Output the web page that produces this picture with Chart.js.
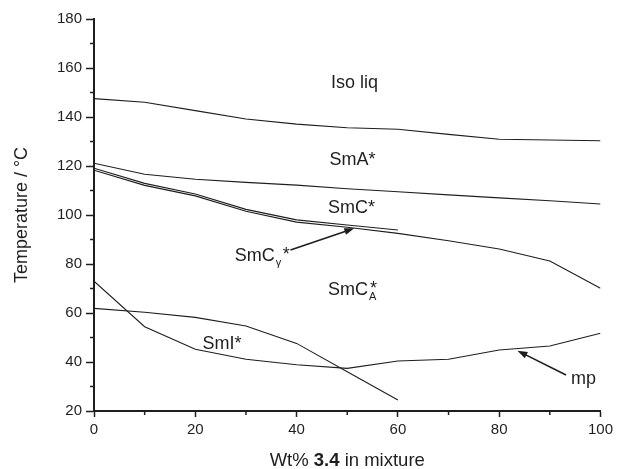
<!DOCTYPE html>
<html><head><meta charset="utf-8">
<script src="https://cdn.jsdelivr.net/npm/chart.js@4.4.0/dist/chart.umd.min.js"></script>
<style>html,body{margin:0;padding:0;background:#fff}#wrap{width:617px;height:469px;position:relative}</style>
</head><body><div id="wrap"><canvas id="c"></canvas></div>
<script>
// ---- data (wt% of 3.4 in mixture vs transition temperature / °C) ----
const wtPercent      = [0, 10, 20, 30, 40, 50, 60, 70, 80, 90, 100];
const wtPercentShort = [0, 10, 20, 30, 40, 50, 60];
const isoLiqToSmA    = [147.5, 146.0, 142.6, 139.2, 137.1, 135.6, 135.0, 132.9, 130.9, 130.6, 130.3];
const smAToSmC       = [121.1, 116.6, 114.6, 113.3, 112.2, 110.7, 109.5, 108.2, 107.0, 105.8, 104.5];
const smCToSmCgamma  = [119.1, 112.9, 108.6, 102.3, 98.0, 95.9, 93.9];
const smCgammaToSmCA = [118.3, 112.1, 107.8, 101.5, 97.1, 95.0, 92.5, 89.5, 86.1, 81.2, 70.1];
const meltingPoint   = [73.0, 54.4, 45.2, 41.1, 38.9, 37.4, 40.4, 41.1, 44.9, 46.5, 51.7];
const smIBoundary    = [61.9, 60.3, 58.2, 54.7, 47.6, 36.0, 24.5];
const xTickLabels    = [0, 20, 40, 60, 80, 100];
const yTickLabels    = [20, 40, 60, 80, 100, 120, 140, 160, 180];
const xMinorTicks    = [10, 30, 50, 70, 90];
const yMinorTicks    = [30, 50, 70, 90, 110, 130, 150, 170];

const FONT = "'Liberation Sans', Arial, Helvetica, sans-serif";
const INK = '#1e1e1e';

function pts(xs, ys) { return ys.map((y, i) => ({ x: xs[i], y })); }
function lineDs(xs, ys) {
  return { data: pts(xs, ys), borderColor: INK, borderWidth: 1.1, pointRadius: 0, tension: 0, fill: false };
}

// region labels in data coordinates (left, baseline)
const regionLabels = [
  { main: 'Iso liq', x: 46.8, y: 151.7 },
  { main: 'SmA*',    x: 46.5, y: 120.3 },
  { main: 'SmC*',    x: 46.2, y: 100.7 },
  { main: 'SmC', sub: 'γ', star: true, starDx: 8, x: 27.8, y: 81.3 },
  { main: 'SmC', sub: 'A', star: true, starDx: 2, x: 46.2, y: 67.3 },
  { main: 'SmI*',    x: 21.4, y: 45.2 },
  { main: 'mp',      x: 94.2, y: 30.9 }
];
const arrows = [
  { from: [38.8, 85.7], to: [51.4, 94.6] },
  { from: [93.2, 34.7], to: [83.6, 44.6] }
];

const decor = {
  id: 'decor',
  afterDraw(chart) {
    const ctx = chart.ctx, xs = chart.scales.x, ys = chart.scales.y;
    ctx.save();
    // minor ticks
    ctx.strokeStyle = INK; ctx.lineWidth = 1.5;
    const yb = ys.getPixelForValue(20);
    xMinorTicks.forEach(v => { const px = xs.getPixelForValue(v); ctx.beginPath(); ctx.moveTo(px, yb); ctx.lineTo(px, yb + 4); ctx.stroke(); });
    const xl = xs.getPixelForValue(0);
    yMinorTicks.forEach(v => { const py = ys.getPixelForValue(v); ctx.beginPath(); ctx.moveTo(xl, py); ctx.lineTo(xl - 4, py); ctx.stroke(); });
    // labels
    ctx.fillStyle = INK; ctx.textBaseline = 'alphabetic'; ctx.textAlign = 'left';
    regionLabels.forEach(l => {
      const px = xs.getPixelForValue(l.x), py = ys.getPixelForValue(l.y);
      ctx.font = '18px ' + FONT;
      ctx.fillText(l.main, px, py);
      const w = ctx.measureText(l.main).width;
      if (l.sub) {
        ctx.font = '11px ' + FONT;
        ctx.fillText(l.sub, px + w + 1, py + 5);
        ctx.font = '18px ' + FONT;
        ctx.fillText('*', px + w + l.starDx, py - 1);
      }
    });
    // arrows
    arrows.forEach(a => {
      const x1 = xs.getPixelForValue(a.from[0]), y1 = ys.getPixelForValue(a.from[1]);
      const x2 = xs.getPixelForValue(a.to[0]), y2 = ys.getPixelForValue(a.to[1]);
      const ang = Math.atan2(y2 - y1, x2 - x1);
      ctx.lineWidth = 1.6; ctx.strokeStyle = INK;
      ctx.beginPath(); ctx.moveTo(x1, y1); ctx.lineTo(x2 - 6 * Math.cos(ang), y2 - 6 * Math.sin(ang)); ctx.stroke();
      ctx.beginPath();
      ctx.moveTo(x2, y2);
      ctx.lineTo(x2 - 10 * Math.cos(ang) + 3.5 * Math.sin(ang), y2 - 10 * Math.sin(ang) - 3.5 * Math.cos(ang));
      ctx.lineTo(x2 - 10 * Math.cos(ang) - 3.5 * Math.sin(ang), y2 - 10 * Math.sin(ang) + 3.5 * Math.cos(ang));
      ctx.closePath(); ctx.fill();
    });
    // x axis title with bold compound number
    const parts = [['Wt% ', '18.5px '], ['3.4', 'bold 18.5px '], [' in mixture', '18.5px ']];
    let total = 0;
    parts.forEach(p => { ctx.font = p[1] + FONT; total += ctx.measureText(p[0]).width; });
    let cx = (xs.left + xs.right) / 2 - total / 2;
    const by = yb + 55;
    parts.forEach(p => { ctx.font = p[1] + FONT; ctx.fillText(p[0], cx, by); cx += ctx.measureText(p[0]).width; });
    ctx.restore();
  }
};

new Chart(document.getElementById('c'), {
  type: 'line',
  data: {
    datasets: [
      lineDs(wtPercent, isoLiqToSmA),
      lineDs(wtPercent, smAToSmC),
      lineDs(wtPercentShort, smCToSmCgamma),
      lineDs(wtPercent, smCgammaToSmCA),
      lineDs(wtPercent, meltingPoint),
      lineDs(wtPercentShort, smIBoundary)
    ]
  },
  options: {
    responsive: true, maintainAspectRatio: false, animation: false,
    layout: { padding: { top: 19, right: 4, left: 0, bottom: 0 } },
    plugins: { legend: { display: false }, tooltip: { enabled: false } },
    scales: {
      x: {
        type: 'linear', min: 0, max: 100,
        afterBuildTicks: s => { s.ticks = xTickLabels.map(v => ({ value: v })); },
        afterFit: s => { s.height = 58; },
        ticks: { color: INK, font: { family: FONT, size: 15 }, padding: 4, maxRotation: 0 },
        grid: { drawOnChartArea: false, drawTicks: true, tickLength: 6, tickWidth: 1.5, tickColor: INK },
        border: { display: true, color: INK, width: 2 }
      },
      y: {
        type: 'linear', min: 20, max: 180,
        afterBuildTicks: s => { s.ticks = yTickLabels.map(v => ({ value: v })); },
        afterFit: s => { s.width = 94; },
        ticks: { color: INK, font: { family: FONT, size: 15 }, padding: 4 },
        grid: { drawOnChartArea: false, drawTicks: true, tickLength: 8, tickWidth: 1.5, tickColor: INK },
        border: { display: true, color: INK, width: 2 },
        title: { display: true, text: 'Temperature / °C', color: INK, font: { family: FONT, size: 18 }, padding: { top: 11, bottom: 0 } }
      }
    }
  },
  plugins: [decor]
});
</script></body></html>
